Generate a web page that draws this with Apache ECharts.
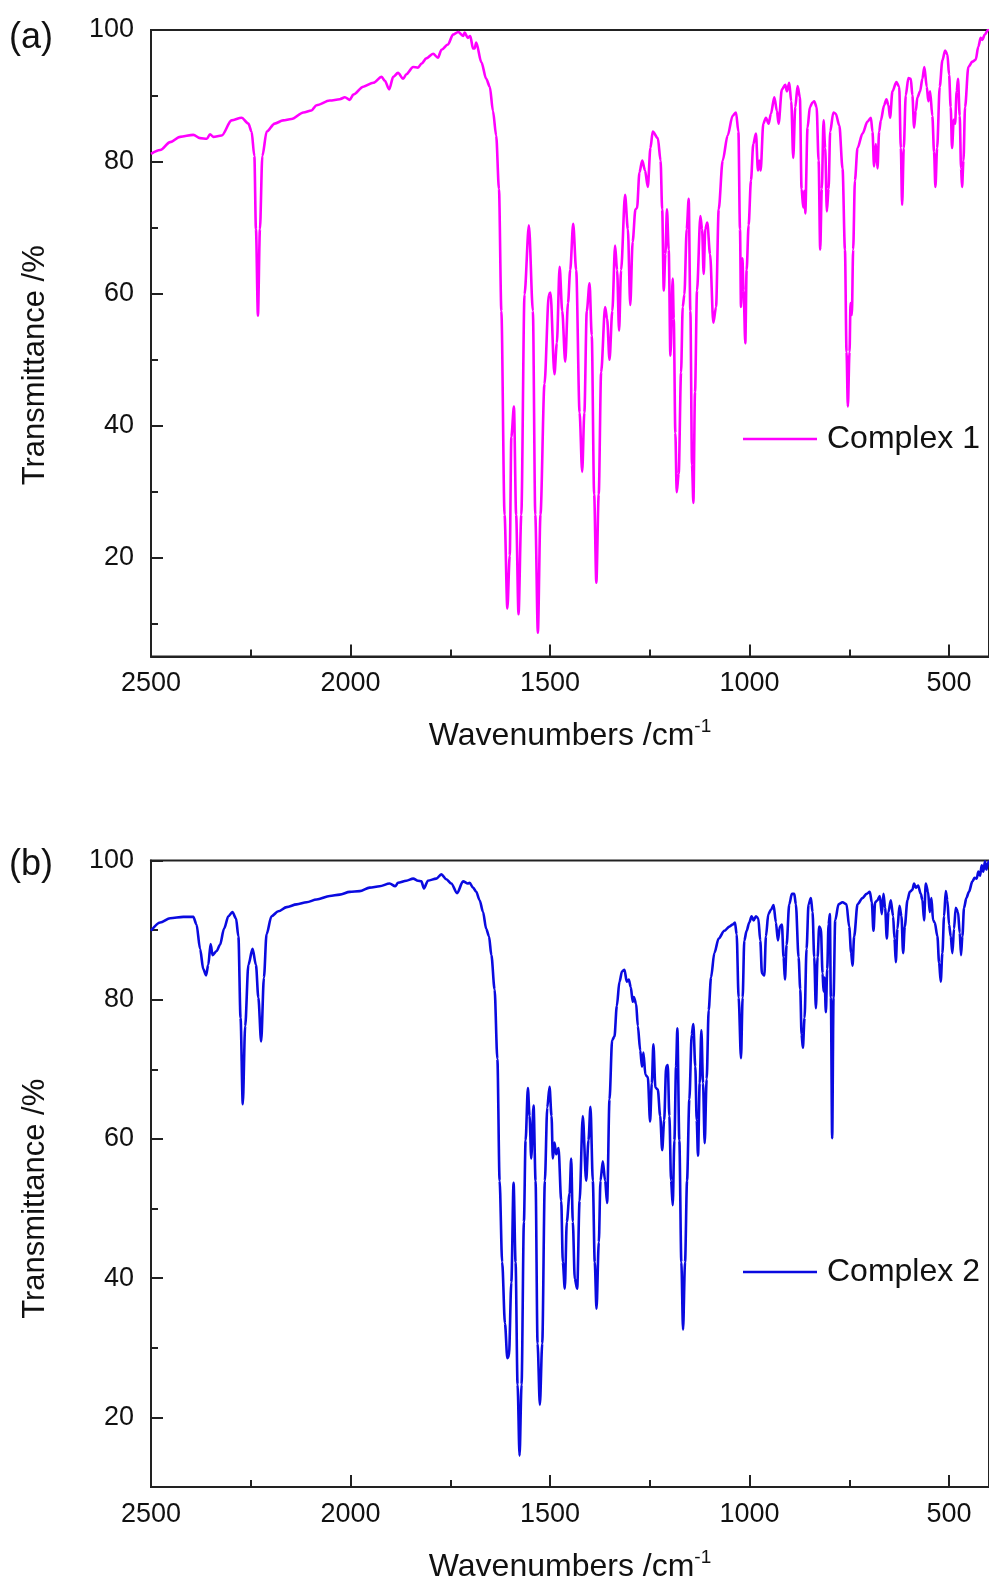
<!DOCTYPE html>
<html>
<head>
<meta charset="utf-8">
<title>FT-IR spectra</title>
<script src="https://cdn.jsdelivr.net/npm/echarts@6.0.0/dist/echarts.min.js"></script>
<style>
  html, body { margin: 0; padding: 0; background: #fff; }
  #chart { width: 989px; height: 1584px; }
</style>
</head>
<body>
<div id="chart"></div>
<script>
// Complex 1 (panel a): wavenumber (cm-1) and transmittance (%)
const wn1 = [2500, 2477, 2452, 2427, 2394, 2377, 2360, 2352, 2344, 2323, 2298, 2273, 2256, 2248, 2241, 2237, 2232, 2227, 2221, 2210,
  2190, 2169, 2148, 2118, 2098, 2085, 2052, 2027, 2014, 2002, 1993, 1968, 1943, 1922, 1914, 1903, 1893, 1881, 1868, 1860,
  1843, 1831, 1822, 1810, 1793, 1781, 1772, 1756, 1743, 1730, 1718, 1714, 1706, 1700, 1693, 1689, 1685, 1672, 1660, 1651,
  1643, 1635, 1628, 1622, 1614, 1607, 1601, 1597, 1590.5, 1585, 1579, 1572, 1564, 1553, 1543, 1537, 1530.5, 1524, 1514, 1503,
  1499, 1489, 1483, 1476, 1469.5, 1462, 1455, 1449.5, 1442, 1434.5, 1426, 1419.5, 1414, 1408, 1401, 1395.5, 1389.5, 1384, 1378, 1372,
  1362, 1357, 1351, 1344, 1337, 1332, 1327, 1322, 1312, 1305, 1299, 1293, 1286, 1282, 1276, 1269, 1262, 1255, 1248.5, 1242.6,
  1230, 1223, 1219, 1215, 1211, 1207, 1202.6, 1198.4, 1192.6, 1190, 1186, 1182.6, 1177.6, 1171.7, 1167.5, 1163.4, 1157.5, 1152.5, 1148.4, 1144.2,
  1140.8, 1136.7, 1131.7, 1123.3, 1119, 1115, 1111, 1106, 1099, 1090.8, 1084, 1077.4, 1067.4, 1055, 1042.4, 1034, 1028, 1024, 1021.5, 1018,
  1015, 1010.7, 1007.4, 1002.4, 996.5, 990.7, 984, 979, 975.6, 972.3, 965.6, 959, 952.3, 946.5, 938, 931.4, 927.3, 919, 910.6, 906.4,
  900.6, 895.6, 890.6, 885.5, 879.7, 873.9, 869.7, 865.5, 863, 860.5, 854.7, 848.8, 842.2, 838, 832, 827, 823, 819, 814.6, 810.5,
  806.3, 802, 798, 790, 784, 775, 767, 761, 757, 753.7, 749.5, 747, 743.7, 740.4, 736, 729.5, 717, 704.5, 696, 692,
  688, 683.6, 679.5, 675.3, 671, 662.8, 657, 652, 648, 642, 632, 625, 621, 617.7, 613.6, 608.6, 602, 596, 592, 587.7,
  583.5, 579.4, 572.7, 567, 562, 556, 552, 547.6, 542, 537.7, 534.3, 530, 523.5, 516.8, 510, 504.3, 500, 496, 492.6, 488.4,
  485, 481, 477.6, 473.4, 470, 467.5, 464, 460, 451.7, 441.7, 433.4, 426.7, 420.8, 416.7, 410.8, 402.5, 400];
const tr1 = [81.2, 81.8, 83.0, 83.8, 84.1, 83.6, 83.5, 84.2, 83.8, 84.0, 86.3, 86.7, 85.8, 84.6, 80.9, 69.8, 56.7, 69.8, 80.9, 84.6,
  85.8, 86.3, 86.5, 87.5, 87.8, 88.6, 89.3, 89.5, 89.8, 89.4, 90.2, 91.4, 92.0, 92.9, 92.3, 91.0, 92.9, 93.5, 92.6, 93.3,
  94.4, 94.3, 94.9, 95.7, 96.4, 95.8, 97.0, 97.8, 99.3, 99.7, 99.1, 99.6, 98.8, 99.1, 97.2, 97.2, 98.1, 95.1, 92.6, 91.4,
  87.7, 84.0, 75.9, 57.4, 26.5, 12.3, 20.3, 38.3, 42.9, 26.5, 11.4, 26.5, 59.9, 70.4, 57.4, 26.5, 8.6, 26.5, 46.3, 59.9,
  60.2, 47.8, 52.5, 64.1, 57.4, 49.7, 58.6, 63.6, 70.6, 63.6, 42.0, 33.0, 42.0, 57.4, 61.6, 53.7, 29.6, 16.2, 29.6, 48.1,
  58.0, 56.2, 50.0, 57.4, 67.3, 63.6, 54.4, 63.6, 75.0, 69.8, 58.3, 67.9, 72.8, 73.0, 78.4, 80.2, 78.7, 76.2, 82.1, 84.6,
  83.6, 80.2, 72.8, 60.5, 66.0, 72.8, 66.7, 50.6, 62.3, 56.2, 38.9, 29.9, 32.7, 48.1, 58.0, 59.9, 69.8, 74.4, 57.4, 34.0,
  28.3, 45.1, 60.5, 71.8, 69.8, 63.0, 69.8, 70.8, 66.0, 55.6, 58.0, 72.8, 80.2, 84.0, 87.0, 87.5, 84.6, 69.8, 58.0, 65.4,
  60.5, 52.5, 63.6, 70.4, 77.2, 82.7, 84.3, 78.7, 80.2, 78.7, 85.8, 86.7, 85.8, 87.3, 89.8, 87.7, 85.8, 91.0, 91.7, 90.7,
  92.0, 89.2, 80.6, 88.3, 91.5, 89.8, 75.9, 73.1, 75.6, 72.2, 85.2, 88.3, 89.0, 89.2, 88.3, 80.2, 66.7, 75.9, 86.3, 82.1,
  72.5, 75.9, 84.6, 87.5, 87.3, 85.5, 79.0, 66.7, 51.2, 42.9, 51.2, 58.6, 56.8, 66.7, 77.2, 82.1, 84.3, 86.1, 86.7, 84.6,
  79.3, 82.7, 79.0, 84.6, 86.3, 88.6, 89.5, 88.6, 86.7, 90.7, 92.1, 91.4, 82.1, 73.5, 82.1, 90.1, 92.7, 92.6, 90.1, 85.2,
  87.7, 89.8, 90.7, 92.6, 94.4, 91.4, 89.2, 90.7, 87.0, 81.5, 76.2, 82.1, 91.4, 95.4, 96.9, 96.3, 93.2, 88.3, 82.1, 86.4,
  85.8, 90.7, 92.6, 87.0, 79.0, 76.2, 80.2, 88.3, 94.4, 95.2, 95.5, 97.5, 98.8, 98.5, 99.3, 100, 100];

// Complex 2 (panel b)
const wn2 = [2500, 2477, 2452, 2419, 2394, 2386, 2377, 2369, 2362, 2356.5, 2350.6, 2345.7, 2335.6, 2327, 2317, 2306, 2296, 2287, 2281, 2275.6,
  2270, 2264, 2256, 2245.5, 2237, 2231, 2224, 2217, 2210.5, 2198, 2181, 2160, 2135, 2110, 2085, 2052, 2027, 2002, 1977, 1952,
  1927, 1902, 1888, 1881, 1860, 1843, 1831, 1822.5, 1816, 1806, 1785, 1772.5, 1760, 1747.5, 1733, 1718, 1706, 1701.5, 1693, 1685,
  1676.5, 1668, 1660, 1653, 1647, 1639, 1632, 1626.4, 1620, 1613, 1607, 1603, 1597, 1591.4, 1586.4, 1581.4, 1576.4, 1571.4, 1565.5, 1561.3,
  1555.5, 1551.3, 1547.2, 1541.3, 1536.3, 1531.3, 1525.5, 1519.6, 1513, 1507, 1501.3, 1496.3, 1493, 1488.8, 1484.6, 1478.8, 1472, 1468, 1463, 1458,
  1451, 1447, 1443, 1438, 1432, 1426, 1418, 1409.5, 1403.7, 1398.7, 1392.8, 1388, 1383.6, 1377.8, 1373.6, 1367.8, 1362, 1357, 1351, 1344.4,
  1338.6, 1332.7, 1326, 1319.4, 1313.5, 1307.7, 1302.7, 1297.7, 1292.7, 1290.2, 1284.3, 1280, 1274, 1269.5, 1266, 1261, 1255, 1249.3, 1245, 1241,
  1236, 1230, 1224, 1219, 1214, 1209, 1205, 1201, 1196.7, 1192.6, 1188.4, 1184.2, 1181, 1176, 1171, 1166.7, 1161.7, 1156.7, 1150.9, 1145,
  1141, 1136, 1132.5, 1129.2, 1125, 1120.8, 1116.6, 1112.5, 1107.5, 1102.5, 1096.6, 1088.3, 1077.4, 1063.3, 1050.7, 1042.4, 1036.6, 1032.4, 1027.4, 1021.5,
  1017.4, 1013.2, 1007.4, 1000.7, 994.9, 989.8, 984, 978.2, 973.2, 969, 963, 959, 953, 946.5, 939.8, 934, 929, 924, 919, 914.8,
  911.4, 907.2, 900.6, 893.9, 888, 884, 877.2, 873, 869.7, 866.4, 862.2, 857.2, 852.2, 846.3, 842.2, 838, 833.8, 829.6, 825.5, 821.3,
  817.1, 814.6, 812.1, 808.8, 805.4, 802.1, 798.8, 796.3, 793, 789.6, 785.4, 777.1, 767.1, 757.1, 750.4, 745.4, 742, 737.9, 729.5, 717,
  707, 698.7, 693.7, 689.5, 685.3, 679.5, 673.6, 668.6, 664.5, 660.3, 656.1, 652, 646.1, 640.3, 636.9, 633.6, 629.4, 624.4, 619.4, 615.2,
  611.1, 604.4, 598.5, 591.9, 587.7, 583.5, 577.7, 571, 566.9, 562.7, 558.5, 552.7, 548.5, 544.3, 540.1, 536, 529.3, 525.1, 521, 516.8,
  512.6, 508.4, 504.3, 500.1, 495.9, 491.8, 487.6, 483.4, 477.6, 473.4, 470.1, 466.7, 462.6, 456.7, 450.2, 441.7, 435.9, 430.9, 426.7, 422.5,
  418.3, 414.2, 410, 406.7, 402.5, 400];
const tr2 = [89.9, 91.1, 91.7, 91.9, 91.9, 90.8, 87.3, 84.4, 83.5, 85.0, 88.0, 86.4, 87.0, 87.9, 90.2, 92.0, 92.6, 91.7, 89.1, 77.4,
  65.0, 76.2, 85.0, 87.3, 85.0, 80.3, 74.0, 83.2, 89.4, 92.0, 92.7, 93.3, 93.7, 94.0, 94.4, 94.9, 95.1, 95.5, 95.6, 96.1,
  96.3, 96.7, 96.3, 96.8, 97.1, 97.4, 97.1, 97.0, 96.0, 97.1, 97.4, 98.0, 97.3, 96.7, 95.3, 97.0, 96.7, 96.8, 96.1, 95.5,
  94.3, 92.6, 90.2, 89.1, 86.4, 81.5, 71.5, 54.0, 42.3, 33.5, 28.5, 28.8, 39.4, 53.7, 42.3, 24.7, 14.5, 24.7, 48.1, 59.8,
  67.3, 63.3, 57.2, 64.8, 54.0, 30.6, 21.8, 30.6, 54.0, 64.5, 67.5, 63.3, 57.2, 59.5, 57.8, 58.7, 51.1, 42.3, 38.5, 48.1,
  52.2, 57.2, 48.1, 39.9, 38.5, 51.1, 63.3, 54.0, 59.8, 64.6, 54.0, 42.3, 35.6, 45.2, 54.0, 56.8, 54.0, 50.8, 65.7, 74.2,
  74.7, 79.1, 82.6, 84.1, 84.3, 82.6, 82.9, 81.8, 79.7, 80.4, 79.4, 76.2, 72.7, 70.4, 72.4, 69.2, 68.9, 62.5, 68.0, 73.6,
  67.4, 67.1, 63.3, 58.4, 62.7, 70.4, 70.6, 63.3, 54.0, 50.5, 59.8, 70.4, 75.9, 59.8, 42.3, 32.6, 42.3, 54.0, 65.7, 75.0,
  76.5, 70.4, 62.7, 57.6, 68.0, 75.6, 68.0, 59.4, 68.6, 78.5, 83.2, 86.7, 88.8, 89.9, 90.5, 90.8, 91.1, 89.4, 80.3, 71.6,
  80.3, 88.5, 89.9, 91.1, 92.0, 91.4, 92.0, 91.7, 88.5, 83.8, 83.5, 89.1, 92.3, 92.9, 93.6, 91.1, 88.5, 90.5, 90.8, 86.1,
  82.9, 87.9, 93.7, 95.2, 95.2, 93.7, 86.1, 81.5, 75.0, 73.1, 77.4, 87.3, 93.7, 94.6, 92.6, 86.1, 78.8, 86.1, 90.5, 90.2,
  83.8, 81.2, 83.2, 78.2, 84.4, 90.8, 92.3, 80.3, 60.1, 80.3, 91.4, 93.7, 94.0, 93.7, 90.5, 86.7, 84.9, 89.1, 93.7, 94.6,
  95.2, 95.5, 94.0, 89.9, 94.0, 94.3, 94.9, 92.3, 95.2, 93.2, 88.8, 92.6, 94.3, 92.0, 88.8, 85.4, 90.2, 93.5, 92.0, 86.7,
  90.5, 94.3, 95.5, 95.8, 96.7, 96.1, 96.4, 95.2, 94.3, 91.4, 96.7, 95.5, 92.6, 94.6, 91.4, 91.1, 89.1, 85.3, 82.6, 86.7,
  92.0, 95.6, 94.3, 90.8, 89.1, 86.7, 90.2, 93.2, 92.6, 89.6, 86.4, 89.1, 93.2, 94.6, 95.5, 97.0, 97.5, 97.4, 98.4, 97.8,
  99.3, 98.4, 99.9, 98.7, 99.6, 100];

// tick positions
const xMajor = [2500, 2000, 1500, 1000, 500];
const xMinor = [2250, 1750, 1250, 750];
const yMajor = [20, 40, 60, 80, 100];
const yMinorA = [10, 30, 50, 70, 90];
const yMinorB = [30, 50, 70, 90];

const FONT = "'Liberation Sans', Arial, sans-serif";
const AXIS = '#222';

const zip = (xs, ys) => xs.map((x, i) => [x, ys[i]]);

function xAxes(gi) {
  return [
    {
      type: 'value', gridIndex: gi, position: 'bottom', min: 400, max: 2500, inverse: true,
      axisLine: { lineStyle: { color: AXIS, width: 2 } },
      axisTick: { inside: true, length: 12, customValues: xMajor, lineStyle: { color: AXIS, width: 2 } },
      axisLabel: { customValues: xMajor, margin: 14, fontSize: 27, color: '#111', fontFamily: FONT, formatter: v => String(v) },
      splitLine: { show: false },
      name: '{t|Wavenumbers /cm}{s|-1}',
      nameLocation: 'middle',
      nameGap: 61,
      nameTextStyle: {
        rich: {
          t: { fontSize: 32, fontFamily: FONT, color: '#111', lineHeight: 38 },
          s: { fontSize: 19, fontFamily: FONT, color: '#111', verticalAlign: 'top', lineHeight: 38 }
        }
      }
    },
    {
      type: 'value', gridIndex: gi, position: 'bottom', min: 400, max: 2500, inverse: true,
      axisLine: { show: false },
      axisTick: { inside: true, length: 7, customValues: xMinor, lineStyle: { color: AXIS, width: 2 } },
      axisLabel: { show: false },
      splitLine: { show: false }
    }
  ];
}

// shift: moves the rotated axis name down the page (it sits below the axis middle in the original)
function yAxes(gi, min, minor, shift) {
  return [
    {
      type: 'value', gridIndex: gi, position: 'left', min: min, max: 100,
      axisLine: { show: true, lineStyle: { color: AXIS, width: 2 } },
      axisTick: { show: true, inside: true, length: 12, customValues: yMajor, lineStyle: { color: AXIS, width: 2 } },
      axisLabel: { customValues: yMajor, margin: 17, fontSize: 27, color: '#111', fontFamily: FONT },
      splitLine: { show: false },
      name: 'Transmittance /%',
      nameLocation: 'middle',
      nameGap: 100,
      nameTextStyle: { fontSize: 31, fontFamily: FONT, color: '#111', padding: [0, shift * 2, 0, 0] }
    },
    {
      type: 'value', gridIndex: gi, position: 'left', min: min, max: 100,
      axisLine: { show: false },
      axisTick: { show: true, inside: true, length: 7, customValues: minor, lineStyle: { color: AXIS, width: 2 } },
      axisLabel: { show: false },
      splitLine: { show: false }
    }
  ];
}

function legendFor(name, top) {
  return {
    data: [name], left: 743, top: top, padding: 0,
    icon: 'rect', itemWidth: 74, itemHeight: 2.4,
    textStyle: { fontSize: 32, fontFamily: FONT, color: '#111', padding: [0, 0, 0, 5] }
  };
}

const chart = echarts.init(document.getElementById('chart'), null, { renderer: 'canvas' });

chart.setOption({
  animation: false,
  backgroundColor: '#fff',
  title: [
    { text: '(a)', left: 9, top: 20, padding: 0, textStyle: { fontSize: 36, fontWeight: 'normal', fontFamily: FONT, color: '#111' } },
    { text: '(b)', left: 9, top: 847, padding: 0, textStyle: { fontSize: 36, fontWeight: 'normal', fontFamily: FONT, color: '#111' } }
  ],
  legend: [legendFor('Complex 1', 423), legendFor('Complex 2', 1256)],
  grid: [
    { left: 151, top: 30, width: 839, height: 626.5, show: true, borderColor: AXIS, borderWidth: 2, containLabel: false },
    { left: 151, top: 860.5, width: 839, height: 628, show: true, borderColor: AXIS, borderWidth: 2, containLabel: false }
  ],
  xAxis: [...xAxes(0), ...xAxes(1)],
  yAxis: [...yAxes(0, 5, yMinorA, 22), ...yAxes(1, 10, yMinorB, 25)],
  series: [
    {
      name: 'Complex 1', type: 'line', xAxisIndex: 0, yAxisIndex: 0,
      data: zip(wn1, tr1), symbol: 'none', showSymbol: false,
      smooth: 0.3, smoothMonotone: 'x',
      lineStyle: { color: '#ff00ff', width: 2.6 }, itemStyle: { color: '#ff00ff' }
    },
    {
      name: 'Complex 2', type: 'line', xAxisIndex: 2, yAxisIndex: 2,
      data: zip(wn2, tr2), symbol: 'none', showSymbol: false,
      smooth: 0.3, smoothMonotone: 'x',
      lineStyle: { color: '#0a0ae0', width: 2.6 }, itemStyle: { color: '#0a0ae0' }
    }
  ]
});

window.addEventListener('resize', () => chart.resize());
</script>
</body>
</html>
